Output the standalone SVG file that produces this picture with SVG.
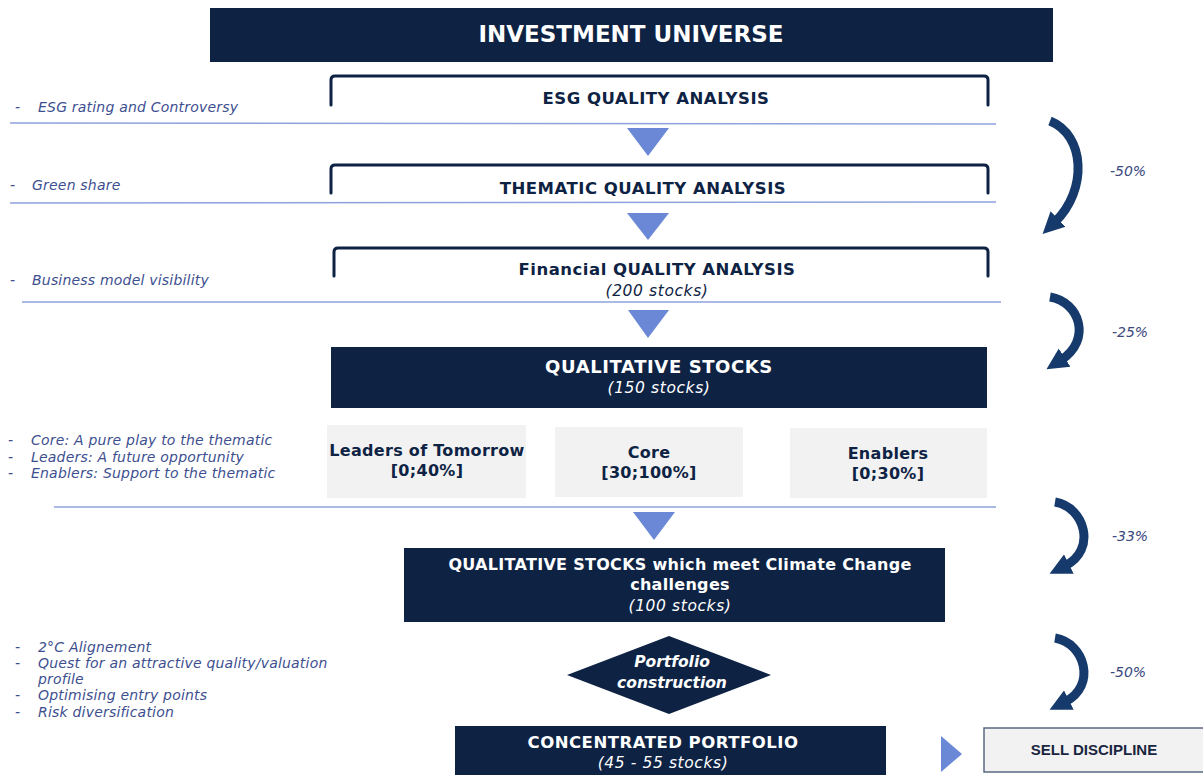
<svg xmlns="http://www.w3.org/2000/svg" width="1203" height="775" viewBox="0 0 1203 775">
<style>
.navy{fill:#0e2344}
.gray{fill:#f2f2f2}
.brk{fill:none;stroke:#0e2344;stroke-width:3;stroke-linecap:round}
.sep{stroke:#8ea3dd;stroke-width:1.5;fill:none}
.tri{fill:#6a88d6}
.hw{font-family:"DejaVu Sans",sans-serif;font-weight:bold;fill:#ffffff;text-anchor:middle}
.hd{font-family:"DejaVu Sans",sans-serif;font-weight:bold;fill:#0e2344;text-anchor:middle}
.up{font-size:16.5px;letter-spacing:0.5px}
.iw{font-family:"DejaVu Sans",sans-serif;font-style:italic;fill:#ffffff;text-anchor:middle;font-size:15.5px;letter-spacing:0.6px}
.id{font-family:"DejaVu Sans",sans-serif;font-style:italic;fill:#0e2344;text-anchor:middle;font-size:15.5px;letter-spacing:0.6px}
.note{font-family:"DejaVu Sans",sans-serif;font-style:italic;fill:#3d4f8f;font-size:14px;letter-spacing:0.2px}
.pct{font-family:"DejaVu Sans",sans-serif;font-style:italic;fill:#3b4a80;font-size:14px}
.curve{fill:none;stroke:#163a6b;stroke-width:9;marker-end:url(#ah)}
</style>
<defs>
<marker id="ah" viewBox="0 0 10 10" refX="2" refY="5" markerWidth="2.4" markerHeight="2.6" orient="auto" markerUnits="strokeWidth">
<path d="M0,0 L10,5 L0,10 z" fill="#163a6b"/>
</marker>
</defs>

<g id="investment-universe">
<rect class="navy" x="210" y="8" width="843" height="54"/>
<text class="hw" x="631" y="42" font-size="23">INVESTMENT UNIVERSE</text>
</g>

<g id="esg-analysis">
<path class="brk" d="M331 105 L331 80 Q331 76 335 76 L984 76 Q988 76 988 80 L988 105"/>
<text class="hd up" x="656" y="104">ESG QUALITY ANALYSIS</text>
</g>

<g id="thematic-analysis">
<path class="brk" d="M331 193 L331 169 Q331 165 335 165 L984 165 Q988 165 988 169 L988 193"/>
<text class="hd up" x="643" y="194">THEMATIC QUALITY ANALYSIS</text>
</g>

<g id="financial-analysis">
<path class="brk" d="M334 276 L334 252 Q334 248 338 248 L984 248 Q988 248 988 252 L988 276"/>
<text class="hd up" x="657" y="275">Financial QUALITY ANALYSIS</text>
<text class="id" x="657" y="296">(200 stocks)</text>
</g>

<g id="qualitative-stocks">
<rect class="navy" x="331" y="347" width="656" height="61"/>
<text class="hw" x="659" y="373" font-size="18" letter-spacing="0.6">QUALITATIVE STOCKS</text>
<text class="iw" x="659" y="393">(150 stocks)</text>
</g>

<g id="leaders">
<rect class="gray" x="327" y="425" width="199" height="73"/>
<text class="hd" x="427" y="456" font-size="16" letter-spacing="0.3">Leaders of Tomorrow</text>
<text class="hd" x="427" y="476" font-size="16" letter-spacing="0.3">[0;40%]</text>
</g>

<g id="core">
<rect class="gray" x="555" y="427" width="188" height="70"/>
<text class="hd" x="649" y="458" font-size="16" letter-spacing="0.3">Core</text>
<text class="hd" x="649" y="478" font-size="16" letter-spacing="0.3">[30;100%]</text>
</g>

<g id="enablers">
<rect class="gray" x="790" y="428" width="197" height="70"/>
<text class="hd" x="888" y="459" font-size="16" letter-spacing="0.3">Enablers</text>
<text class="hd" x="888" y="479" font-size="16" letter-spacing="0.3">[0;30%]</text>
</g>

<g id="climate-stocks">
<rect class="navy" x="404" y="548" width="541" height="74"/>
<text class="hw" x="680" y="570" font-size="16" letter-spacing="0.3">QUALITATIVE STOCKS which meet Climate Change</text>
<text class="hw" x="680" y="590" font-size="16" letter-spacing="0.3">challenges</text>
<text class="iw" x="680" y="611">(100 stocks)</text>
</g>

<g id="portfolio-construction">
<polygon class="navy" points="669,636 771,675 669,714 567,675"/>
<text class="hw" x="672" y="667" font-size="15.5" font-style="italic">Portfolio</text>
<text class="hw" x="672" y="688" font-size="15.5" font-style="italic">construction</text>
</g>

<g id="concentrated-portfolio">
<rect class="navy" x="455" y="726" width="431" height="52"/>
<text class="hw up" x="663" y="748">CONCENTRATED PORTFOLIO</text>
<text class="iw" x="663" y="768">(45 - 55 stocks)</text>
</g>

<g id="sell-discipline">
<rect x="984" y="728" width="222" height="44" fill="#f2f2f2" stroke="#5a6a80" stroke-width="1.5"/>
<text x="1094" y="755" font-family="Liberation Sans, Arial, sans-serif" font-weight="bold" font-size="15" fill="#1a2640" text-anchor="middle">SELL DISCIPLINE</text>
</g>

<g id="notes">
<text class="note" x="15" y="112">-</text><text class="note" x="38" y="112">ESG rating and Controversy</text>
<text class="note" x="10" y="190">-</text><text class="note" x="32" y="190">Green share</text>
<text class="note" x="10" y="285">-</text><text class="note" x="32" y="285">Business model visibility</text>
<text class="note" x="8" y="445">-</text><text class="note" x="31" y="445">Core: A pure play to the thematic</text>
<text class="note" x="8" y="462">-</text><text class="note" x="31" y="462">Leaders: A future opportunity</text>
<text class="note" x="8" y="478">-</text><text class="note" x="31" y="478">Enablers: Support to the thematic</text>
<text class="note" x="15" y="652">-</text><text class="note" x="38" y="652">2°C Alignement</text>
<text class="note" x="15" y="668">-</text><text class="note" x="38" y="668">Quest for an attractive quality/valuation</text>
<text class="note" x="38" y="684">profile</text>
<text class="note" x="15" y="700">-</text><text class="note" x="38" y="700">Optimising entry points</text>
<text class="note" x="15" y="717">-</text><text class="note" x="38" y="717">Risk diversification</text>
</g>

<g id="reductions">
<text class="pct" x="1110" y="176">-50%</text>
<text class="pct" x="1112" y="337">-25%</text>
<text class="pct" x="1112" y="541">-33%</text>
<text class="pct" x="1110" y="677">-50%</text>
</g>

<g id="connectors">
<line class="sep" x1="10" y1="123" x2="996" y2="124"/>
<line class="sep" x1="10" y1="203" x2="996" y2="202"/>
<line class="sep" x1="22" y1="302" x2="1001" y2="302"/>
<line class="sep" x1="54" y1="507" x2="996" y2="507"/>
<polygon class="tri" points="627,128 669,128 648,156"/>
<polygon class="tri" points="627,213 669,213 648,240"/>
<polygon class="tri" points="628,310 669,310 648,338"/>
<polygon class="tri" points="633,512 675,512 654,540"/>
<polygon class="tri" points="941,736 962,754 941,772"/>
<path class="curve" d="M1050 121 C1085 135 1088 190 1055 222"/>
<path class="curve" d="M1050 297 C1080 302 1092 340 1061 360"/>
<path class="curve" d="M1055 502 C1085 507 1097 550 1065 566"/>
<path class="curve" d="M1055 638 C1085 643 1097 686 1065 702"/>
</g>
</svg>
